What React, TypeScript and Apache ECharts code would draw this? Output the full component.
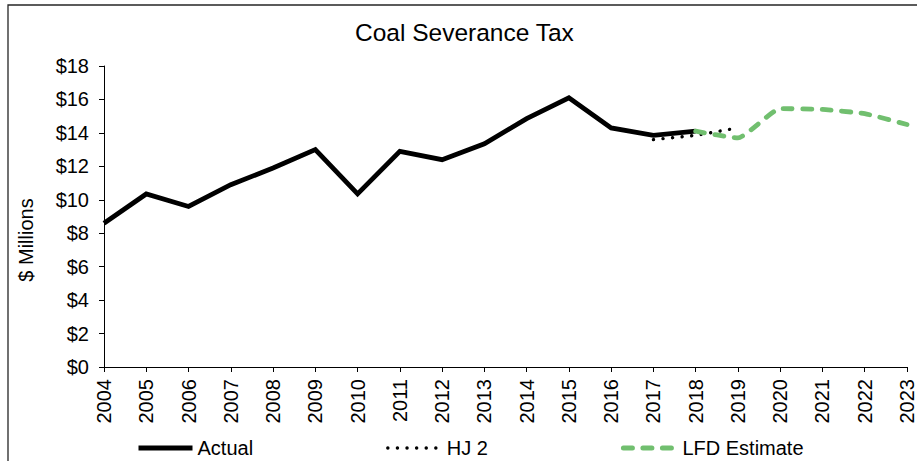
import React, { useEffect, useRef } from "react";
import * as echarts from "echarts";

// Fiscal years on the category axis
const years = [
  "2004", "2005", "2006", "2007", "2008", "2009", "2010", "2011", "2012", "2013",
  "2014", "2015", "2016", "2017", "2018", "2019", "2020", "2021", "2022", "2023",
];

// Collections in $ millions
const actual: (number | null)[] = [
  8.6, 10.35, 9.6, 10.9, 11.9, 13.0, 10.35, 12.9, 12.4, 13.35,
  14.85, 16.1, 14.3, 13.85, 14.1, null, null, null, null, null,
];

const hj2: (number | null)[] = [
  null, null, null, null, null, null, null, null, null, null,
  null, null, null, 13.6, 13.85, 14.3, null, null, null, null,
];

const lfdEstimate: (number | null)[] = [
  null, null, null, null, null, null, null, null, null, null,
  null, null, null, null, 14.1, 13.7, 15.45, 15.4, 15.15, 14.5,
];

const yTicks = { min: 0, max: 18, interval: 2 };

const FONT = "'Liberation Sans', Arial, sans-serif";
const GREEN = "#71bf6f";
const DOTS = [0.1, 9.5];
const DASHES = [9, 10.5];

export default function App() {
  const ref = useRef<HTMLDivElement>(null);

  useEffect(() => {
    if (!ref.current) return;
    const chart = echarts.init(ref.current, null, { renderer: "svg" });
    chart.setOption({
      animation: false,
      backgroundColor: "#ffffff",
      textStyle: { fontFamily: FONT, color: "#000" },
      title: {
        text: "Coal Severance Tax",
        left: 355,
        top: 20,
        padding: 0,
        textStyle: { fontFamily: FONT, fontSize: 24.5, fontWeight: "normal", color: "#000" },
      },
      grid: { left: 104, right: 1, top: 66, bottom: 94, containLabel: false },
      xAxis: {
        type: "category",
        data: years,
        boundaryGap: false,
        axisLine: { lineStyle: { color: "#000", width: 1 } },
        axisTick: { show: true, length: 5, lineStyle: { color: "#000" } },
        axisLabel: { rotate: 90, fontSize: 20, color: "#000", margin: 12, fontFamily: FONT },
        splitLine: { show: false },
      },
      yAxis: {
        type: "value",
        min: yTicks.min,
        max: yTicks.max,
        interval: yTicks.interval,
        axisLine: { show: true, lineStyle: { color: "#000", width: 1 } },
        axisTick: { show: true, length: 5, lineStyle: { color: "#000" } },
        axisLabel: {
          fontSize: 20,
          color: "#000",
          margin: 15,
          fontFamily: FONT,
          formatter: (v: number) => "$" + v,
        },
        splitLine: { show: false },
      },
      legend: {
        data: [
          { name: "Actual", lineStyle: { width: 5, color: "#000", type: "solid" } },
          { name: "HJ 2", lineStyle: { width: 3.4, color: "#000", type: DOTS, cap: "round" } },
          { name: "LFD Estimate", lineStyle: { width: 5, color: GREEN, type: DASHES, cap: "round" } },
        ],
        left: 136,
        top: 438,
        padding: 0,
        itemWidth: 54,
        itemHeight: 14,
        itemGap: 133,
        itemStyle: { opacity: 0 },
        textStyle: { fontSize: 20, color: "#000", fontFamily: FONT },
      },
      graphic: [
        {
          type: "rect",
          shape: { x: 8, y: 5, width: 1200, height: 1200 },
          style: { fill: "none", stroke: "#262626", lineWidth: 1.3 },
          silent: true,
        },
        {
          type: "text",
          x: 26,
          y: 240,
          rotation: Math.PI / 2,
          style: {
            text: "$ Millions",
            fontSize: 20,
            fontFamily: FONT,
            fill: "#000",
            align: "center",
            verticalAlign: "middle",
          },
        },
      ],
      series: [
        {
          name: "Actual",
          type: "line",
          data: actual,
          symbol: "none",
          lineStyle: { color: "#000", width: 4.8, join: "miter" },
          itemStyle: { color: "#000" },
        },
        {
          name: "HJ 2",
          type: "line",
          data: hj2,
          symbol: "none",
          lineStyle: { color: "#000", width: 3.4, type: DOTS, cap: "round" },
          itemStyle: { color: "#000" },
        },
        {
          name: "LFD Estimate",
          type: "line",
          data: lfdEstimate,
          symbol: "none",
          smooth: 0.15,
          lineStyle: { color: GREEN, width: 4.8, type: DASHES, cap: "round" },
          itemStyle: { color: GREEN },
        },
      ],
    });
    return () => chart.dispose();
  }, []);

  return (
    <div
      ref={ref}
      style={{ position: "fixed", left: 0, top: 0, width: 917, height: 461 }}
    />
  );
}
